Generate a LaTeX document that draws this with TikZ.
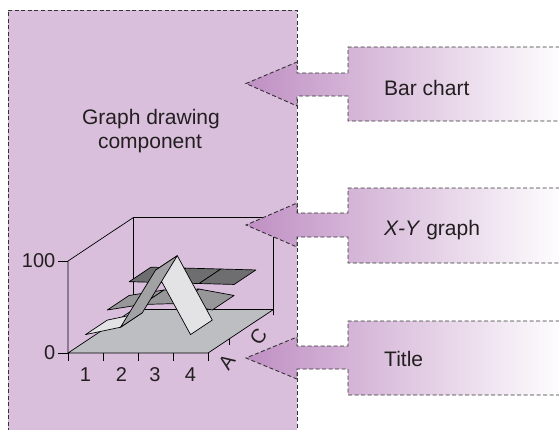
\documentclass[tikz,border=0pt]{standalone}
\usepackage{fontspec}
\setmainfont{Liberation Sans}
\definecolor{panel}{HTML}{D9BFDC}
\definecolor{arrowdark}{HTML}{BF8FC3}
\definecolor{dashcol}{HTML}{333333}
\definecolor{txt}{HTML}{231F20}
\definecolor{floorc}{HTML}{BDBEC1}
\definecolor{lightr}{HTML}{E3E3E6}
\definecolor{riser}{HTML}{A2A2A5}
\definecolor{midr}{HTML}{97979A}
\definecolor{darkr}{HTML}{6E6E71}
\begin{document}
\begin{tikzpicture}[x=1pt,y=-1pt,
  dashedline/.style={draw=dashcol, line width=0.9pt, dash pattern=on 4pt off 2.5pt},
  txtlbl/.style={font=\fontsize{21}{24}\selectfont, text=txt, inner sep=0pt},
  axnum/.style={font=\fontsize{20}{24}\selectfont, text=txt, inner sep=0pt},
  chartline/.style={draw=black, line width=0.7pt, line join=round}]
\clip (0,0) rectangle (559,429);
% main component panel
\path[fill=panel, dashedline] (8,445) -- (8,10) -- (297,10) -- (297,445);
\node[txtlbl, anchor=base] (gdc1) at (151,124.3) {Graph drawing};
\node[txtlbl, anchor=base] (gdc2) at (150,148.3) {component};
% 3D chart
\begin{scope}[shift={(68,353)}, x={(35pt,0pt)}, y={(0pt,0.92pt)}, z={(21.8pt,14.5pt)}]
  \draw[chartline] (0,0,0) -- (0,100,0) -- (0,100,3) -- (4,100,3) -- (4,-6,3);
  \draw[chartline] (0,100,3) -- (0,0,3);
  \path[chartline, fill=floorc] (0,0,0) -- (4,0,0) -- (4,0,3) -- (0,0,3) -- cycle;
  \draw[chartline] (0,100,0) -- (-0.3,100,0);
  \draw[chartline] (0,0,0) -- (-0.3,0,0);
  \foreach \i in {0,1,2,3,4} { \draw[chartline] (\i,0,0) -- (\i,-9,0); }
  \draw[chartline] (4,0,1) -- (4,-7,1);
  % back ribbon
  \foreach \xa/\va/\vb in {0.5/46/45, 1.5/45/44, 2.5/44/43}
    { \path[chartline, fill=darkr] (\xa,\va,2) -- (\xa+1,\vb,2) -- (\xa+1,\vb,3) -- (\xa,\va,3) -- cycle; }
  % middle ribbon
  \foreach \xa/\va/\vb in {0.5/31/37, 1.5/37/38, 2.5/38/31}
    { \path[chartline, fill=midr] (\xa,\va,1) -- (\xa+1,\vb,1) -- (\xa+1,\vb,2) -- (\xa,\va,2) -- cycle; }
  % front ribbon
  \foreach \xa/\va/\vb/\col in {0.5/20/28/lightr, 2.5/90/20/lightr, 1.5/28/90/riser}
    { \path[chartline, fill=\col] (\xa,\va,0) -- (\xa+1,\vb,0) -- (\xa+1,\vb,1) -- (\xa,\va,1) -- cycle; }
\end{scope}
\node[axnum, anchor=east] (v100) at (55.5,260.5) {100};
\node[axnum, anchor=east] (v0) at (55.5,352.5) {0};
\node[axnum] (c1) at (85.5,374.2) {1};
\node[axnum] (c2) at (121.5,374.2) {2};
\node[axnum] (c3) at (155,374.2) {3};
\node[axnum] (c4) at (190.5,374.2) {4};
\node[axnum, rotate=55] (ra) at (226.7,361.7) {A};
\node[axnum, rotate=55] (rc) at (258.3,336.7) {C};
% arrow callouts
\foreach \ya/\yb/\yc/\yd/\ye/\yf/\yg in {47/62/73/83.5/96/106/121, 188/203/213/225/237/247/263, 321/337/346/358/369/379/395}
{
  \path[left color=arrowdark, right color=white, dashedline]
    (566,\ya) -- (348,\ya) -- (348,\yc) -- (297,\yc) -- (297,\yb) -- (246,\yd)
    -- (297,\yf) -- (297,\ye) -- (348,\ye) -- (348,\yg) -- (566,\yg);
}
\node[txtlbl, anchor=base west] (bar) at (384,95.7) {Bar chart};
\node[txtlbl, anchor=base west] (xy) at (384,235) {\textit{X-Y} graph};
\node[txtlbl, anchor=base west] (title) at (384,366.7) {Title};
\end{tikzpicture}
\end{document}
